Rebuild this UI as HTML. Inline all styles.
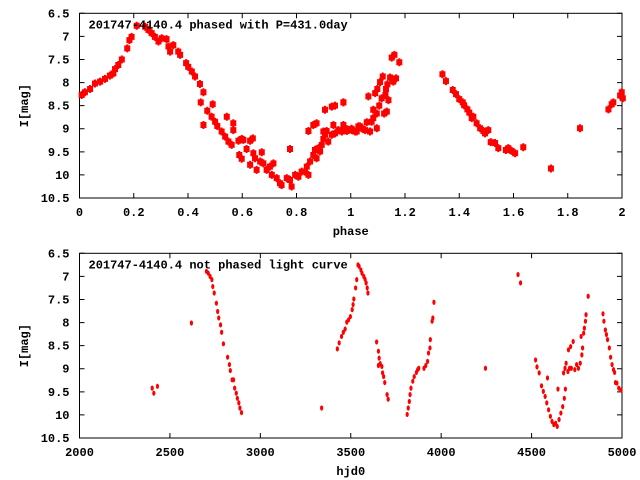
<!DOCTYPE html>
<html><head><meta charset="utf-8"><style>
html,body{margin:0;padding:0;background:#fff;}
svg{display:block;}
text{font-family:"Liberation Mono",monospace;font-size:12px;font-weight:bold;fill:#000;}
</style></head><body>
<svg id="chart" width="640" height="480" viewBox="0 0 640 480" xmlns="http://www.w3.org/2000/svg"></svg>
<script>
// Top panel: phased light curve
const phaseVals=[0.008,0.020,0.039,0.057,0.076,0.094,0.112,0.125,0.131,0.143,0.156,0.176,0.184,0.192,0.211,0.242,0.254,0.266,0.278,0.291,0.303,0.321,0.328,0.334,0.346,0.364,0.371,0.393,0.401,0.414,0.426,0.444,0.457,0.447,0.457,0.471,0.491,0.487,0.500,0.508,0.524,0.537,0.543,0.549,0.561,0.567,0.567,0.586,0.598,0.604,0.616,0.629,0.639,0.589,0.598,0.629,0.641,0.647,0.653,0.672,0.666,0.678,0.690,0.702,0.709,0.715,0.727,0.739,0.745,0.764,0.776,0.776,0.782,0.795,0.807,0.819,0.831,0.838,0.844,0.850,0.862,0.868,0.874,0.881,0.887,0.893,0.899,0.905,0.911,0.917,0.930,0.942,0.954,0.967,0.979,0.991,1.004,1.022,1.034,0.844,0.862,0.874,0.905,0.930,0.942,0.973,0.899,0.936,
0.967,0.973,0.973,0.985,1.003,1.016,1.028,1.040,1.053,1.059,1.065,1.071,1.077,1.083,1.083,1.090,1.096,1.096,1.098,1.105,1.108,1.114,1.118,1.123,1.128,1.130,1.133,1.135,1.139,1.145,1.151,1.157,1.161,1.167,1.179,
1.338,1.351,1.376,1.388,1.400,1.413,1.418,1.430,1.437,1.446,1.452,1.464,1.477,1.489,1.495,1.507,1.516,1.532,1.544,1.572,1.581,1.593,1.606,1.636,1.738,1.845,1.950,1.962,1.968,1.993,1.999,2.003];
const phaseMags=[8.27,8.21,8.14,8.02,7.98,7.92,7.85,7.80,7.71,7.62,7.50,7.26,7.08,7.01,6.77,6.79,6.86,6.93,7.01,7.11,7.04,7.06,7.22,7.33,7.19,7.33,7.40,7.58,7.66,7.76,7.87,8.03,8.21,8.43,8.92,8.61,8.47,8.74,8.85,8.94,9.06,9.17,8.74,9.28,9.35,8.88,9.03,9.26,9.22,9.24,9.44,9.26,9.21,9.57,9.65,9.78,9.53,9.64,9.89,9.51,9.71,9.75,9.89,9.82,10.0,9.75,10.07,10.18,10.22,10.07,9.44,10.11,10.25,10.0,10.04,9.93,9.93,9.82,10.0,9.71,9.57,9.46,9.64,9.42,9.49,9.35,9.22,9.13,9.05,9.28,9.13,9.10,9.03,9.06,8.99,9.03,9.03,9.06,8.95,9.05,8.92,8.88,8.59,8.52,8.50,8.43,9.06,8.92,
9.06,8.43,8.92,9.05,9.00,9.06,8.95,8.99,9.03,8.86,8.30,9.06,8.85,8.77,8.59,8.23,8.99,8.67,8.14,8.50,7.99,8.34,7.87,8.67,8.27,8.14,8.63,8.04,8.38,7.89,7.46,7.98,7.40,7.91,7.56,
7.82,7.97,8.16,8.25,8.36,8.43,8.49,8.58,8.65,8.77,8.74,8.88,8.99,9.05,9.10,9.03,9.29,9.31,9.42,9.46,9.42,9.48,9.53,9.40,9.86,8.99,8.58,8.47,8.43,8.28,8.21,8.34];
const phaseTicks=["0","0.2","0.4","0.6","0.8","1","1.2","1.4","1.6","1.8","2"];
const magTicks=["6.5","7","7.5","8","8.5","9","9.5","10","10.5"];
// Bottom panel: unphased light curve
const hjdVals=[2402,2411,2431,2619,
2702,2712,2722,2732,2737,2745,2757,2764,2770,2780,2786,2796,2819,2829,2834,2844,2852,2858,2867,2873,2881,2887,2896,
3339,
3426,3436,3449,3459,3469,3478,3488,3498,3508,3513,3517,3527,3533,3540,3546,3556,3562,3572,3579,3585,3591,3595,
3643,3653,3657,3663,3653,3672,3676,3682,3688,3701,3707,
3812,3818,3824,3828,3833,3843,3851,3863,3870,3876,3905,3915,3925,3930,3938,3940,3950,3954,3960,
4245,4425,4439,
4522,4530,4542,4555,4565,4575,4584,4594,4588,4604,4613,4623,4633,4642,4646,4652,4662,4672,4681,4687,4677,4685,4691,4701,4710,4704,4716,4730,4720,4739,4749,4759,4769,4774,4778,4782,4788,4792,4798,4801,4813,
4895,4900,4908,4914,4920,4930,4937,4945,4953,4959,4964,4972,4982,4995];
const hjdMags=[9.42,9.53,9.38,8.01,
6.89,6.93,7.00,7.07,7.22,7.36,7.58,7.76,7.90,8.05,8.21,8.46,8.75,8.91,9.04,9.24,9.24,9.42,9.53,9.64,9.74,9.85,9.95,
9.85,
8.57,8.44,8.30,8.21,8.14,7.99,7.94,7.87,7.72,7.61,7.49,7.25,7.07,6.75,6.78,6.86,6.93,7.00,7.06,7.14,7.25,7.36,
8.42,8.62,8.77,8.89,8.93,8.95,9.09,9.17,9.30,9.56,9.66,
9.99,9.85,9.71,9.56,9.42,9.27,9.17,9.08,9.02,8.99,8.99,8.93,8.84,8.66,8.55,8.37,7.97,7.90,7.56,
8.99,6.96,7.14,
8.81,8.96,9.09,9.37,9.49,9.60,9.74,9.89,9.20,10.03,10.14,10.21,10.18,10.25,9.44,10.10,9.96,9.82,9.64,9.44,9.09,8.99,8.88,9.06,8.99,8.59,8.52,8.41,8.99,9.02,8.91,8.99,8.88,8.30,8.70,8.55,8.23,8.12,7.97,7.83,7.43,
7.81,7.97,8.16,8.26,8.37,8.55,8.75,8.91,9.02,9.08,9.30,9.31,9.42,9.46];
const hjdTicks=["2000","2500","3000","3500","4000","4500","5000"];

const NS="http://www.w3.org/2000/svg";
const svg=document.getElementById('chart');
function mk(tag,attrs,parent){const e=document.createElementNS(NS,tag);for(const k in attrs)e.setAttribute(k,attrs[k]);(parent||svg).appendChild(e);return e;}

const L=79.5,R=622;
function panel(top,bottom,xmin,xmax,xt,xlabel,title,xs,ys,big,pname){
  const g=mk('g',{});
  
  
  const X=v=>L+(v-xmin)/(xmax-xmin)*(R-L);
  const Y=m=>top+(m-6.5)/4*(bottom-top);
  // ticks
  magTicks.forEach(t=>{const y=Y(parseFloat(t));
    const tk=mk('path',{d:`M${L} ${y}h5M${R} ${y}h-5`,stroke:'#000','stroke-width':1},g);
    
    
    const tx=mk('text',{x:L-10,y:y+4,'text-anchor':'end'},g);tx.textContent=t;
    
    
  });
  xt.forEach(t=>{const x=X(parseFloat(t));
    const tk=mk('path',{d:`M${x} ${bottom}v-5M${x} ${top}v5`,stroke:'#000','stroke-width':1},g);
    
    
    const tx=mk('text',{x:x,y:bottom+18,'text-anchor':'middle'},g);tx.textContent=t;
    
    
  });
  const fr=mk('rect',{x:L,y:top,width:R-L,height:bottom-top,fill:'none',stroke:'#000','stroke-width':1},g);
  
  
  const xl=mk('text',{x:(L+R)/2,y:bottom+37,'text-anchor':'middle'},g);xl.textContent=xlabel;
  
  
  const yl=mk('text',{x:0,y:0,'text-anchor':'middle',transform:`translate(28 ${(top+bottom)/2}) rotate(-90)`},g);yl.textContent='I[mag]';
  
  
  const pts=mk('g',{fill:'#ff0000'},g);
  
  
  for(let i=0;i<xs.length;i++){
    const x=X(xs[i]),y=Y(ys[i]);
    let p;
    if(big){p=mk('path',{d:`M${x-3} ${y-3}h6v6h-6zM${x-1} ${y-4}h2v8h-2z`},pts);}
    else{p=mk('ellipse',{cx:x,cy:y,rx:1.6,ry:2.6},pts);}
    
    
  }
  const tt=mk('text',{x:L+9,y:top+15},g);tt.textContent=title;
  
  
}
panel(13.3,198,0,2,phaseTicks,'phase','201747-4140.4 phased with P=431.0day',phaseVals,phaseMags,true,'phased-panel');
panel(253.3,438,2000,5000,hjdTicks,'hjd0','201747-4140.4 not phased light curve',hjdVals,hjdMags,false,'unphased-panel');
</script>
</body></html>
